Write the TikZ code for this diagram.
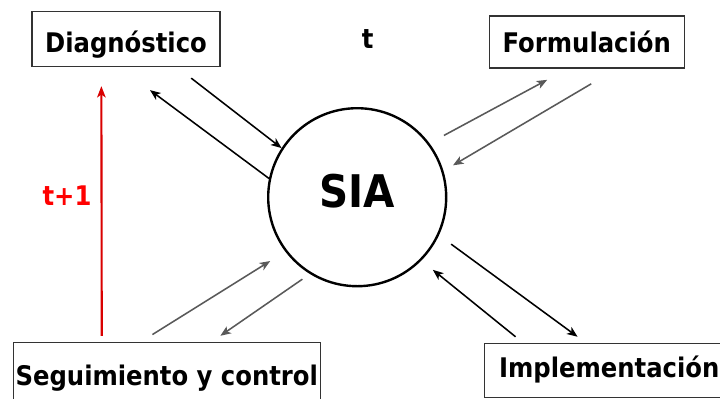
\documentclass[tikz,border=0pt]{standalone}
\usepackage{fontspec}
\setmainfont{DejaVu Sans Condensed}
\usepackage{tikz}
\usetikzlibrary{calc}
\usetikzlibrary{positioning}
\usetikzlibrary{arrows.meta}
\tikzstyle{stagenode} = [draw=black!80, line width=0.9pt, rectangle, inner sep=0pt, text height=15.4pt, text depth=0pt, font=\bfseries\fontsize{19.2}{23}\selectfont]
\tikzstyle{sysnode} = [draw, circle, line width=1.7pt, minimum size=4.45cm, inner sep=0pt, text height=23pt, text depth=8.6pt, font=\bfseries\fontsize{32}{38}\selectfont]
\tikzstyle{timenode} = [inner sep=0pt, font=\bfseries\fontsize{19.2}{23}\selectfont]
\tikzstyle{flow} = [-{Stealth[length=7.5pt, width=6pt, inset=2pt]}, line width=1.1pt]
\tikzstyle{flowgray} = [flow, black!65]
\tikzstyle{feedback} = [-{Stealth[length=8pt, width=6pt, inset=2pt]}, red!85!black, line width=1.5pt]

\begin{document}
\begin{tikzpicture}
  \clip (0,0) rectangle (18,-9.95);

  \node[sysnode] (sia) at (8.93,-4.93) {SIA};
  \node[timenode] (tnow) at (9.19,-0.97) {t};

  \node[stagenode, text height=19pt, minimum width=4.7cm, minimum height=1.375cm, on grid, above left=3.96cm and 5.78cm of sia] (diag) {Diagnóstico};
  \node[stagenode, text height=15.6pt, minimum width=4.875cm, minimum height=1.3cm, on grid, above right=3.88cm and 5.74cm of sia] (form) {Formulación};
  \node[stagenode, minimum width=7.68cm, minimum height=1.6cm, on grid, below left=4.43cm and 4.76cm of sia] (seg) {Seguimiento y control};
  \node[stagenode, text height=10pt, minimum width=6.25cm, minimum height=1.35cm, on grid, below right=4.33cm and 6.3cm of sia] (impl) {Implementación};

  \draw[flow] ($(diag.south)+(1.63,-0.28)$) -- (sia.147);
  \draw[flow] (sia.168) -- ($(diag.south)+(0.6,-0.58)$);

  \draw[flowgray] ($(sia.35)+(0.32,0.25)$) -- ($(form.south)+(-0.99,-0.28)$);
  \draw[flowgray] ($(form.south)+(0.11,-0.38)$) -- ($(sia.18)+(0.25,0.1)$);

  \draw[flowgray] ($(seg.north)+(-0.36,0.18)$) -- ($(sia.216)+(-0.35,-0.27)$);
  \draw[flowgray] ($(sia.236)+(-0.11,-0.18)$) -- ($(seg.north)+(1.34,0.15)$);

  \draw[flow] ($(sia.333)+(0.34,-0.15)$) -- ($(impl.north west)+(2.35,0.15)$);
  \draw[flow] ($(impl.north west)+(0.8,0.15)$) -- ($(sia.316)+(0.27,-0.25)$);

  \draw[feedback] ($(seg.north west)+(2.23,0.15)$) -- ($(diag.south west)+(1.75,-0.48)$)
    node[pos=0.56, left, inner sep=6.4pt, text=red, font=\bfseries\fontsize{19.2}{23}\selectfont] {t+1};
\end{tikzpicture}
\end{document}
